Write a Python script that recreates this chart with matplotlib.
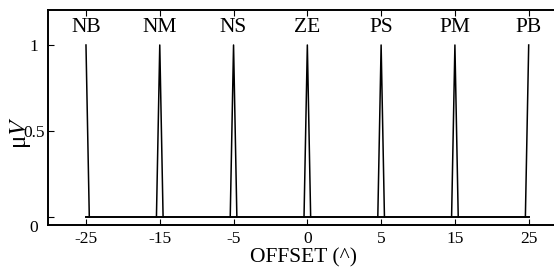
import numpy as np
import matplotlib
matplotlib.use('Agg')
from matplotlib import pyplot as plt
from matplotlib.transforms import ScaledTranslation

plt.rcParams['font.family'] = ['Liberation Serif', 'DejaVu Serif']
plt.rcParams['mathtext.fontset'] = 'stix'

# fuzzy sets: centre (offset) and name
centers = [-25, -15, -5, 0, 5, 15, 25]
names = ['NB', 'NM', 'NS', 'ZE', 'PS', 'PM', 'PB']
peak = 1.0
half_width = 0.045  # in tick-slot units

fig = plt.figure(figsize=(5.54, 2.7), dpi=100)
ax = fig.add_axes([0.0866, 0.1667, 0.921, 0.7963])

pos = np.arange(len(centers))
for i, p in enumerate(pos):
    xs, ys = [p], [peak]
    if i > 0:
        xs, ys = [p - half_width] + xs, [0] + ys
    if i < len(pos) - 1:
        xs, ys = xs + [p + half_width], ys + [0]
    ax.plot(xs, ys, color='black', lw=1.1)
    ax.text(p, 1.1, names[i], ha='center', va='center', fontsize=15.5)

# baseline
ax.plot([pos[0], pos[-1]], [0, 0], color='black', lw=1.4)

ax.set_xlim(-0.515, 6.4)
ax.set_ylim(-0.0465, 1.2035)
ax.set_xticks(pos)
ax.set_xticklabels([str(c) for c in centers], fontsize=12.5)
ax.set_yticks([0, 0.5, 1])
ax.set_yticklabels(['0', '0.5', '1'], fontsize=12.5, ha='center')
ax.tick_params(direction='in', length=4, width=0.8, top=True, pad=4)
ax.tick_params(axis='y', pad=10)

# the "0" label sits a little lower in the original
lab0 = ax.get_yticklabels()[0]
lab0.set_transform(lab0.get_transform() + ScaledTranslation(0, -0.09, fig.dpi_scale_trans))

for s in ax.spines.values():
    s.set_linewidth(1.4)

ax.set_xlabel('OFFSET (^)', fontsize=15.5, labelpad=1)
ax.set_ylabel('μ$V$', fontsize=18)
ax.yaxis.set_label_coords(-0.03, 0.43)

fig.savefig('out.png', dpi=100)
